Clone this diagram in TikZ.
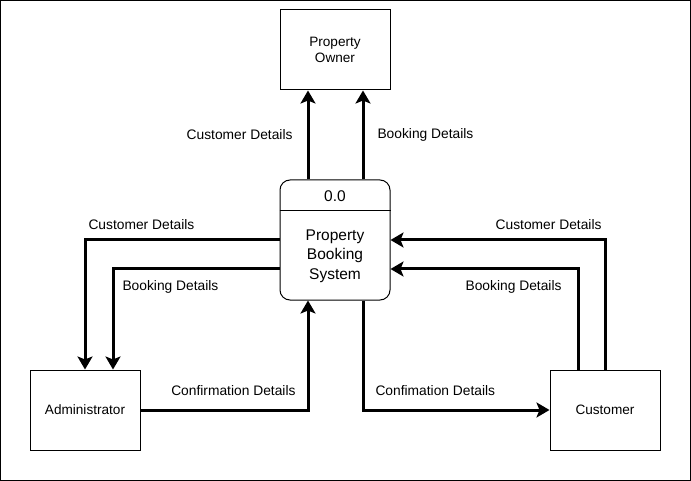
\documentclass[tikz,border=0pt]{standalone}
\usepackage{fontspec}
\setmainfont{Liberation Sans}
\usetikzlibrary{arrows.meta,positioning}

\begin{document}
\begin{tikzpicture}[x=1pt,y=-1pt,
    entity/.style={draw,line width=1pt,minimum width=110pt,minimum height=80pt,align=center,font=\fontsize{13.6}{16}\selectfont},
    flow/.style={line width=3pt,-{Stealth[length=13pt,width=15pt,inset=3pt]}},
    lbl/.style={font=\fontsize{13.8}{16}\selectfont,inner sep=0pt}]
    \useasboundingbox (0,0) rectangle (691,481);
    \draw[line width=1pt] (0.5,0.5) rectangle (690.5,480.5);
    % external entities
    \node[entity] (owner) at (335,50) {Property\\Owner};
    \node[entity] (admin) at (85,410) {Administrator};
    \node[entity] (customer) at (605,410) {Customer};
    % process
    \node[draw,line width=1pt,rounded corners=10pt,minimum width=110pt,minimum height=120pt] (proc) at (335,240) {};
    \draw[line width=1pt] ([yshift=-31pt]proc.north west) -- ([yshift=-31pt]proc.north east);
    \node[font=\fontsize{15.5}{19}\selectfont] (procid) at (335,196) {0.0};
    \node[font=\fontsize{15.5}{19.5}\selectfont,align=center] (procname) at (335,256) {Property\\Booking\\System};
    % flows to owner
    \draw[flow] ([xshift=-27pt]proc.north) -- ([xshift=-27pt]owner.south)
        node[lbl,midway,left=14pt] (ownercust) {Customer Details};
    \draw[flow] ([xshift=28pt]proc.north) -- ([xshift=28pt]owner.south)
        node[lbl,midway,right=13pt] (ownerbook) {Booking Details};
    % flows to administrator
    \draw[flow] (proc.west) -| (admin.north)
        node[lbl,pos=0.5,above right=9pt and 2pt] (admincust) {Customer Details};
    \draw[flow] ([yshift=-29pt]proc.west) -| ([xshift=28pt]admin.north)
        node[lbl,pos=0.5,below right=10pt and 8pt] (adminbook) {Booking Details};
    \draw[flow] (admin.east) -| ([xshift=-27pt]proc.south)
        node[lbl,pos=0.5,above left=13pt and 11pt] (adminconf) {Confirmation Details};
    % flows with customer
    \draw[flow] ([xshift=28pt]proc.south) |- (customer.west)
        node[lbl,pos=0.5,above right=13pt and 11pt] (custconf) {Confimation Details};
    \draw[flow] (customer.north) |- (proc.east)
        node[lbl,pos=0.5,above left=9pt and 2pt] (custcust) {Customer Details};
    \draw[flow] ([xshift=-27pt]customer.north) |- ([yshift=-29pt]proc.east)
        node[lbl,pos=0.5,below left=10pt and 15pt] (custbook) {Booking Details};
\end{tikzpicture}
\end{document}
